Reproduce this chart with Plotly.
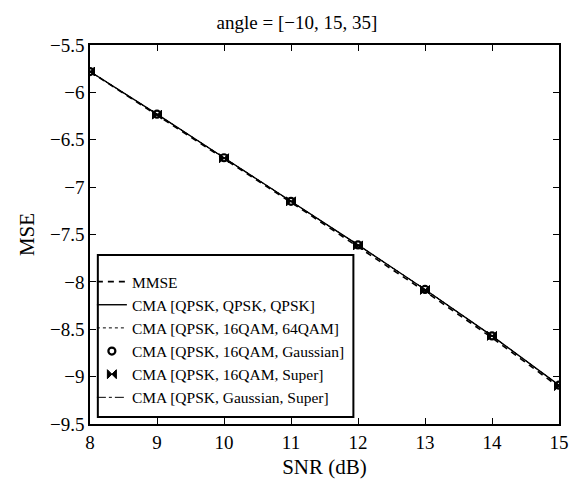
import plotly.graph_objects as go

snr = [8, 9, 10, 11, 12, 13, 14, 15]
mmse = [-5.78, -6.24, -6.70, -7.16, -7.63, -8.10, -8.59, -9.11]
cma_qpsk = [-5.78, -6.23, -6.69, -7.15, -7.61, -8.08, -8.57, -9.09]
cma_16_64 = [-5.78, -6.23, -6.69, -7.15, -7.61, -8.08, -8.57, -9.09]
cma_16_gauss = [-5.78, -6.23, -6.69, -7.15, -7.61, -8.08, -8.57, -9.09]
cma_16_super = [-5.78, -6.235, -6.695, -7.15, -7.615, -8.085, -8.57, -9.10]
cma_gauss_super = [-5.78, -6.23, -6.69, -7.15, -7.61, -8.08, -8.57, -9.09]

names = [
    "MMSE",
    "CMA [QPSK, QPSK, QPSK]",
    "CMA [QPSK, 16QAM, 64QAM]",
    "CMA [QPSK, 16QAM, Gaussian]",
    "CMA [QPSK, 16QAM, Super]",
    "CMA [QPSK, Gaussian, Super]",
]

FONT = "Liberation Serif"

fig = go.Figure()
fig.add_trace(go.Scatter(x=snr, y=mmse, mode="lines", name=names[0],
                         line=dict(color="black", width=1.6, dash="6px,5px")))
fig.add_trace(go.Scatter(x=snr, y=cma_qpsk, mode="lines", name=names[1],
                         line=dict(color="black", width=1.4)))
fig.add_trace(go.Scatter(x=snr, y=cma_16_64, mode="lines", name=names[2],
                         line=dict(color="black", width=1.0, dash="dot")))
fig.add_trace(go.Scatter(x=snr, y=cma_16_gauss, mode="markers", name=names[3],
                         marker=dict(symbol="circle-open", size=7, color="black",
                                     line=dict(width=2.2, color="black"))))
fig.add_trace(go.Scatter(x=snr, y=cma_16_super, mode="markers", name=names[4],
                         marker=dict(symbol="bowtie", size=9, color="black",
                                     line=dict(width=1, color="black"))))
fig.add_trace(go.Scatter(x=snr, y=cma_gauss_super, mode="lines", name=names[5],
                         line=dict(color="black", width=1.0, dash="dashdot")))

axis_common = dict(
    showgrid=False, zeroline=False, showline=True, linecolor="black", linewidth=1.5,
    mirror="ticks", ticks="inside", ticklen=6, tickwidth=1.2, tickcolor="black",
    tickfont=dict(family=FONT, size=19, color="black"),
)

fig.update_layout(
    width=580, height=488,
    margin=dict(l=90, r=11, t=45, b=64),
    paper_bgcolor="white", plot_bgcolor="white",
    font=dict(family=FONT, color="black"),
    title=dict(text="angle = [\u221210, 15, 35]", x=0.512, xanchor="center",
               y=0.955, yanchor="middle", xref="container",
               font=dict(family=FONT, size=19, color="black")),
    xaxis=dict(range=[8, 15], dtick=1, tick0=8,
               title=dict(text="SNR (dB)", font=dict(family=FONT, size=21, color="black"), standoff=8),
               **axis_common),
    yaxis=dict(range=[-9.5, -5.5], dtick=0.5, tick0=-9.5,
               title=dict(text="MSE", font=dict(family=FONT, size=21, color="black"), standoff=10),
               **axis_common),
    legend=dict(x=0.004, y=0.4195, xanchor="left", yanchor="top",
                bgcolor="rgba(0,0,0,0)", borderwidth=0,
                font=dict(family=FONT, size=15.5, color="black"),
                tracegroupgap=0, itemwidth=30),
    shapes=[dict(type="rect", xref="paper", yref="paper",
                 x0=0.0167, x1=0.5616, y0=0.0185, y1=0.4459,
                 line=dict(color="black", width=2), fillcolor="white", layer="above")],
    showlegend=True,
)

fig.write_html("out.html")
